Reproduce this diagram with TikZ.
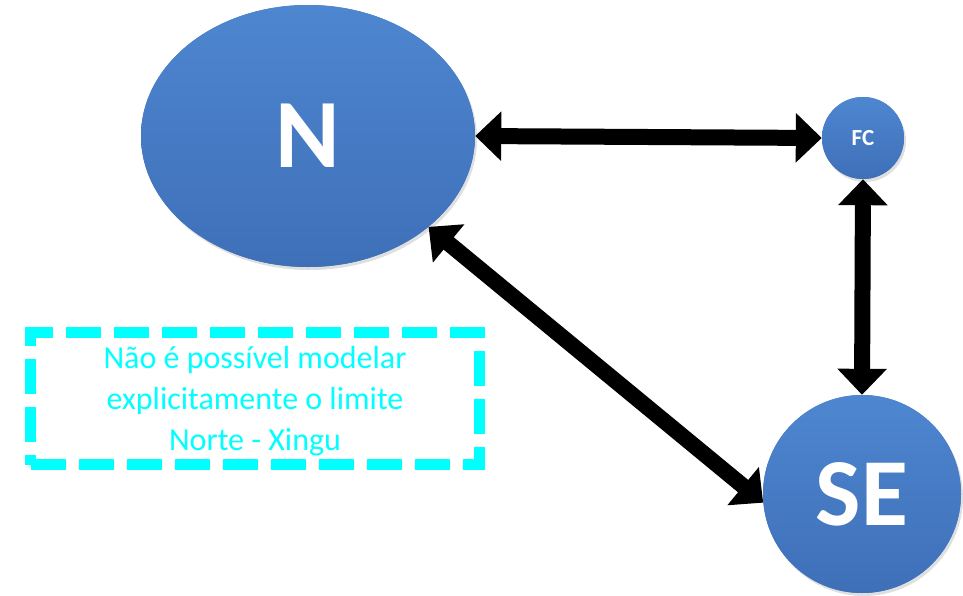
\documentclass[tikz,border=0pt]{standalone}
\usepackage{fontspec}
\setmainfont{Carlito}
\usetikzlibrary{arrows.meta,shapes.geometric,shadows}
\definecolor{bluetop}{HTML}{4E86D0}
\definecolor{bluebot}{HTML}{3E70B8}
\definecolor{cyanbox}{HTML}{00FFFF}
\tikzset{
  region/.style={fill=bluebot, top color=bluetop, bottom color=bluebot, draw=none,
    text=white, font=\bfseries, inner sep=0pt,
    drop shadow={shadow xshift=2pt, shadow yshift=-3pt, opacity=0.25}},
  link/.style={line width=16pt, black,
    {Triangle[length=26pt,width=48pt]}-{Triangle[length=26pt,width=48pt]}},
  notebox/.style={draw=cyanbox, line width=11pt, dash pattern=on 35pt off 13pt,
    minimum width=449pt, minimum height=132pt, inner sep=0pt},
  notetext/.style={text=cyanbox, font=\fontsize{32}{41}\selectfont, align=center}
}
\begin{document}
\begin{tikzpicture}[x=1pt,y=-1pt]
\useasboundingbox (0,0) rectangle (963,595);
\node[region, ellipse, minimum width=334pt, minimum height=262pt] (N) at (308,136) {\fontsize{98}{98}\selectfont N};
\node[region, circle, minimum size=82pt] (FC) at (863,138) {\fontsize{23}{23}\selectfont FC};
\node[region, circle, minimum size=198pt] (SE) at (862,494) {\fontsize{96}{96}\selectfont SE};
\node[notebox] (box) at (255,398.5) {};
\node[notetext] (txt) at (255,401) {Não é possível modelar\\explicitamente o limite\\Norte - Xingu};
\draw[link] (N.east) -- (FC.west);
\draw[link] (FC.south) -- (SE.north);
\draw[link] (N.-37) -- (SE.185);
\end{tikzpicture}
\end{document}
